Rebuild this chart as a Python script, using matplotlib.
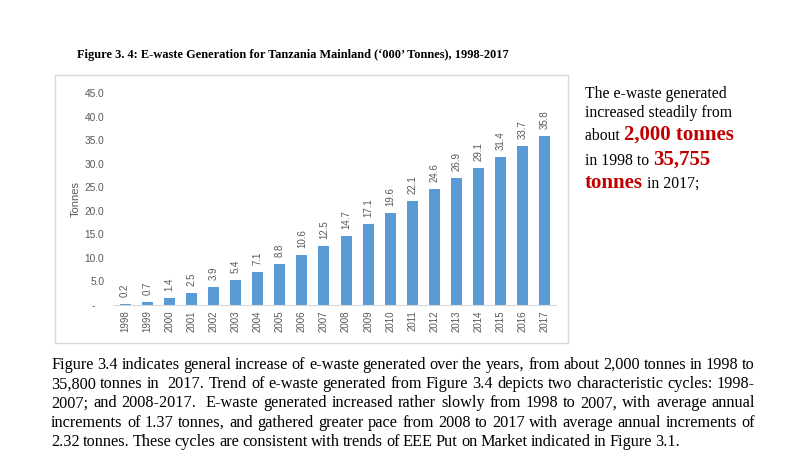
import matplotlib
matplotlib.use("Agg")
import matplotlib.pyplot as plt
from matplotlib.patches import Rectangle

# data ('000 tonnes)
years = ["1998", "1999", "2000", "2001", "2002", "2003", "2004", "2005", "2006", "2007",
         "2008", "2009", "2010", "2011", "2012", "2013", "2014", "2015", "2016", "2017"]
tonnes = [0.2, 0.7, 1.4, 2.5, 3.9, 5.4, 7.1, 8.8, 10.6, 12.5,
          14.7, 17.1, 19.6, 22.1, 24.6, 26.9, 29.1, 31.4, 33.7, 35.8]
y_ticks = [0, 5, 10, 15, 20, 25, 30, 35, 40, 45]

title = "Figure 3. 4: E-waste Generation for Tanzania Mainland (\u2018000\u2019 Tonnes), 1998-2017"

# side note: list of lines, each a list of (text, highlighted?)
side_note = [
    [("The e-waste generated", False)],
    [("increased steadily from", False)],
    [("about ", False), ("2,000 tonnes", True)],
    [("in 1998 to ", False), ("35,755", True)],
    [("tonnes", True), (" in 2017;", False)],
]

paragraph = [
    "Figure 3.4 indicates general increase of e-waste generated over the years, from about 2,000 tonnes in 1998 to",
    "35,800 tonnes in  2017. Trend of e-waste generated from Figure 3.4 depicts two characteristic cycles: 1998-",
    "2007; and 2008-2017.  E-waste generated increased rather slowly from 1998 to 2007, with average annual",
    "increments of 1.37 tonnes, and gathered greater pace from 2008 to 2017 with average annual increments of",
    "2.32 tonnes. These cycles are consistent with trends of EEE Put on Market indicated in Figure 3.1.",
]

W, H = 799, 463
BLUE = "#5B9BD5"
GREY = "#595959"
RED = "#C00000"
SERIF = ["Liberation Serif", "DejaVu Serif"]
SANS = ["Liberation Sans", "DejaVu Sans"]

fig = plt.figure(figsize=(W / 100, H / 100), dpi=100)


def fx(px):
    return px / W


def fy(py):
    return 1 - py / H


# light frame around the chart, like the pasted Excel object
fig.patches.append(Rectangle((fx(55), fy(343)), fx(568) - fx(55), fy(75) - fy(343),
                             transform=fig.transFigure, fill=False,
                             edgecolor="#D9D9D9", linewidth=1))

ax = fig.add_axes([fx(114), fy(305), fx(556) - fx(114), fy(93) - fy(305)])
pos = list(range(len(years)))
bars = ax.bar(pos, tonnes, width=0.5, color=BLUE)
ax.set_xlim(-0.5, len(years) - 0.5)
ax.set_ylim(0, 45)

for b, v in zip(bars, tonnes):
    ax.annotate(f"{v:.1f}", (b.get_x() + b.get_width() / 2, v),
                xytext=(0, 5), textcoords="offset points",
                rotation=90, ha="center", va="bottom",
                fontsize=7, color=GREY, family=SANS)

ax.set_xticks(pos)
ax.set_xticklabels(years, rotation=90, fontsize=7, color=GREY, family=SANS)
ax.set_yticks(y_ticks)
ax.set_yticklabels(["-   " if t == 0 else f"{t:.1f}" for t in y_ticks],
                   fontsize=7.3, color=GREY, family=SANS)
ax.tick_params(length=0, pad=7)
ax.tick_params(axis="x", pad=4)
for s in ["top", "right", "left"]:
    ax.spines[s].set_visible(False)
ax.spines["bottom"].set_color("#D9D9D9")
ax.set_ylabel("Tonnes", fontsize=8, color=GREY, family=SANS, labelpad=3)

fig.text(fx(77), fy(55), title, fontsize=8.9, fontweight="bold", family=SERIF,
         va="center", ha="left")

r = fig.canvas.get_renderer()

# side note, pieces chained along each baseline
baselines = [98, 117, 140, 165, 188]
for line, base in zip(side_note, baselines):
    x = 585
    for txt, hot in line:
        t = fig.text(fx(x), fy(base), txt, family=SERIF, va="baseline", ha="left",
                     fontsize=15 if hot else 11.3,
                     fontweight="bold" if hot else "normal",
                     color=RED if hot else "black")
        x += t.get_window_extent(r).width

# justified paragraph below the chart
left, right = 51, 755
for i, line in enumerate(paragraph):
    base = 369 + 19.2 * i
    words = line.split(" ")
    texts = [fig.text(0, fy(base), w, family=SERIF, fontsize=11.7,
                      va="baseline", ha="left") for w in words]
    widths = [t.get_window_extent(r).width for t in texts]
    if i < len(paragraph) - 1:
        gap = (right - left - sum(widths)) / (len(words) - 1)
    else:
        gap = texts[0].get_window_extent(r).height * 0.2
    x = left
    for t, w in zip(texts, widths):
        t.set_x(fx(x))
        x += w + gap

fig.savefig("out.png", dpi=100)
